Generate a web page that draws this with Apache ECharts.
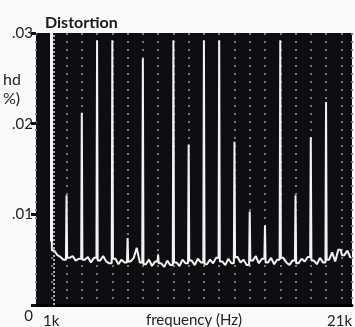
<!DOCTYPE html>
<html>
<head>
<meta charset="utf-8">
<script src="https://cdn.jsdelivr.net/npm/echarts@6/dist/echarts.min.js"></script>
<style>
html, body { margin: 0; padding: 0; background: #fafafa; }
#chart { width: 355px; height: 327px; }
</style>
</head>
<body>
<div id="chart"></div>
<script>
// harmonics of the 1k tone (kHz) and their level (%)
var harmonicFreq = [1, 2, 3, 4, 5, 6, 7, 8, 9, 10, 11, 12, 13, 14, 15, 16, 17, 18, 19, 20];
var harmonicLevel = [0.0300, 0.0121, 0.0212, 0.0292, 0.0292, 0.0074, 0.0272, 0.0056, 0.0292, 0.0177,
                     0.0292, 0.0292, 0.0180, 0.0103, 0.0088, 0.0292, 0.0121, 0.0185, 0.0224, 0.0062];

// noise floor after each harmonic, at +0.2k, +0.4k, +0.6k, +0.8k
var noiseOffset = [0.2, 0.4, 0.6, 0.8];
var noiseLevel = [
    [0.0060, 0.0055, 0.0053, 0.0050],
    [0.0052, 0.0054, 0.0049, 0.0051],
    [0.0050, 0.0053, 0.0047, 0.0052],
    [0.0049, 0.0054, 0.0048, 0.0046],
    [0.0051, 0.0045, 0.0050, 0.0047],
    [0.0048, 0.0052, 0.0063, 0.0047],
    [0.0045, 0.0050, 0.0043, 0.0048],
    [0.0046, 0.0042, 0.0049, 0.0044],
    [0.0047, 0.0043, 0.0050, 0.0046],
    [0.0049, 0.0044, 0.0051, 0.0047],
    [0.0045, 0.0050, 0.0046, 0.0052],
    [0.0048, 0.0044, 0.0051, 0.0046],
    [0.0053, 0.0047, 0.0050, 0.0044],
    [0.0049, 0.0054, 0.0046, 0.0051],
    [0.0047, 0.0052, 0.0045, 0.0050],
    [0.0052, 0.0047, 0.0044, 0.0049],
    [0.0046, 0.0051, 0.0048, 0.0053],
    [0.0049, 0.0045, 0.0052, 0.0047],
    [0.0050, 0.0058, 0.0048, 0.0061],
    [0.0055, 0.0060, 0.0052]
];

var xLabelValues = [1, 20.7];
var xLabelTexts = ['1k', '21k'];

// trace = noise floor with a spike at every harmonic
function buildTrace() {
    var pts = [];
    for (var i = 0; i < harmonicFreq.length; i++) {
        var f = harmonicFreq[i];
        var seg = noiseLevel[i];
        if (i > 0) {
            var prev = noiseLevel[i - 1];
            pts.push([f - 0.04, prev[prev.length - 1]]);
        }
        pts.push([f, harmonicLevel[i]]);
        pts.push([f + 0.04, seg[0]]);
        for (var j = 0; j < seg.length; j++) {
            pts.push([f + noiseOffset[j], seg[j]]);
        }
    }
    return pts;
}

var myChart = echarts.init(document.getElementById('chart'));
var fontName = 'Lato, "Open Sans", sans-serif';

var option = {
    animation: false,
    backgroundColor: '#fafafa',
    title: [{
        text: 'Distortion',
        left: 40, top: 10,
        textStyle: { fontFamily: fontName, fontSize: 16, fontWeight: 'bold', color: '#1a1a1a' }
    }, {
        text: 'hd\n%)',
        left: -2, top: 65,
        textStyle: { fontFamily: fontName, fontSize: 16, fontWeight: 'normal', color: '#222', lineHeight: 19 }
    }],
    grid: {
        left: 36, right: 3, top: 33, bottom: 22,
        outerBoundsMode: 'none',
        show: true, backgroundColor: '#0e0e12', borderWidth: 0
    },
    xAxis: {
        type: 'value',
        min: 0, max: 20.7, interval: 1,
        name: 'frequency (Hz)',
        nameLocation: 'middle',
        nameGap: 8,
        nameMoveOverlap: false,
        nameTextStyle: { fontFamily: fontName, fontSize: 15, color: '#222', verticalAlign: 'top' },
        axisLine: { show: true, lineStyle: { color: '#000', width: 3 } },
        axisTick: { show: false },
        axisLabel: {
            customValues: xLabelValues,
            alignMaxLabel: 'right',
            margin: 9,
            fontFamily: fontName, fontSize: 15, color: '#222',
            formatter: function (v) { return xLabelTexts[xLabelValues.indexOf(v)] || ''; }
        },
        splitLine: { show: true, lineStyle: { color: '#7a7a7a', width: 2, type: [2, 6] } }
    },
    yAxis: {
        type: 'value',
        min: 0, max: 0.03, interval: 0.01,
        axisLine: { show: false },
        axisTick: { show: true, inside: false, length: 5, lineStyle: { color: '#111', width: 3 } },
        axisLabel: {
            margin: 3,
            fontFamily: fontName, fontSize: 15, color: '#222',
            formatter: function (v) {
                if (v === 0) return '{z|0}';
                return v.toFixed(2).replace('0.', '.');
            },
            rich: { z: { fontFamily: fontName, fontSize: 15, color: '#222', padding: [22, 0, 0, 0] } }
        },
        splitLine: { show: false }
    },
    series: [{
        type: 'line',
        data: buildTrace(),
        showSymbol: false,
        lineStyle: { color: '#f2f2f2', width: 2 },
        markLine: {
            silent: true,
            symbol: 'none',
            label: { show: false },
            data: [
                [{ coord: [1, 0.007], lineStyle: { color: '#f5f5f5', width: 3, type: 'solid' } }, { coord: [1, 0.03] }],
                { xAxis: 1.15, lineStyle: { color: '#b0b0b0', width: 2, type: [2, 2] } }
            ]
        }
    }]
};

myChart.setOption(option);
</script>
</body>
</html>
